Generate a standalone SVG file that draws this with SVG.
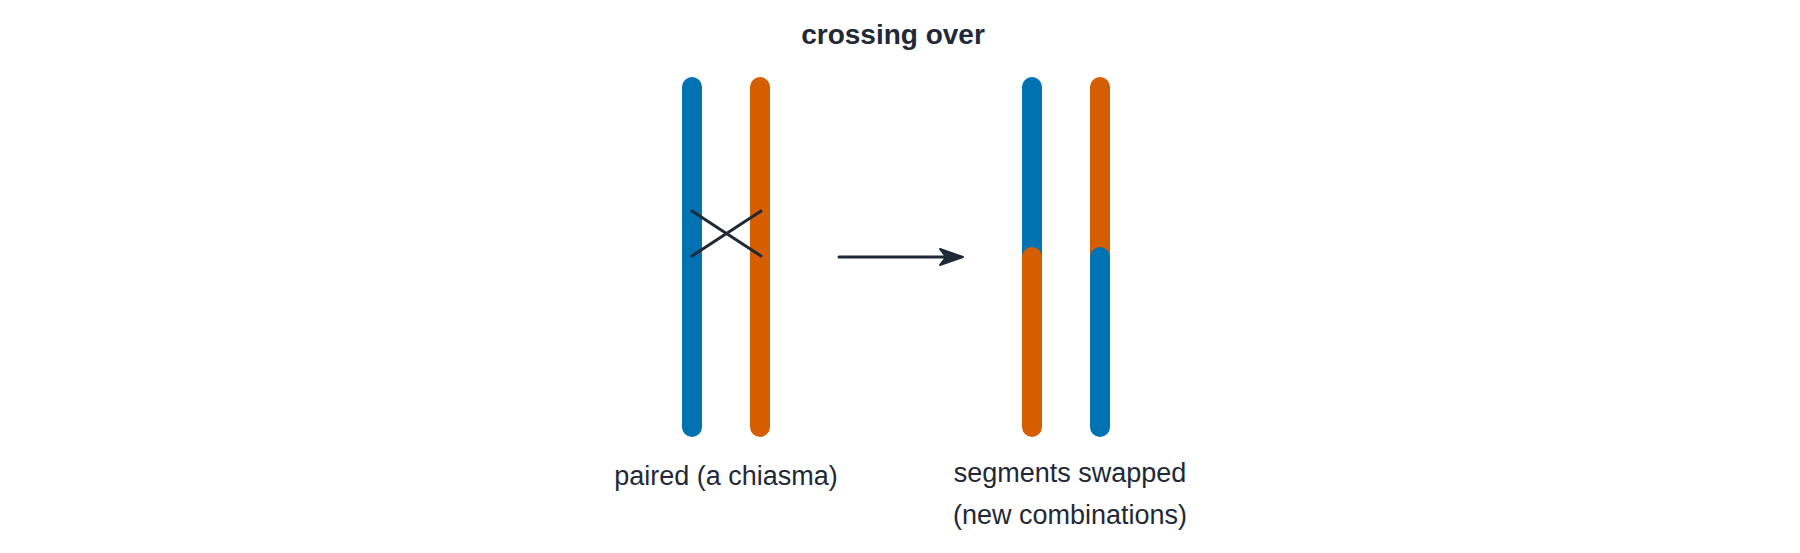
<svg xmlns="http://www.w3.org/2000/svg" width="1800" height="553" viewBox="0 0 1800 553">
<style>
.b{stroke:#0072b2;stroke-width:20;stroke-linecap:round;fill:none}
.o{stroke:#d55e00;stroke-width:20;stroke-linecap:round;fill:none}
.k{stroke:#1f2937;stroke-width:3;stroke-linecap:round;fill:none}
text{font-family:"Liberation Sans",Arial,sans-serif;fill:#1f2937;text-anchor:middle}
.t{font-size:28px;font-weight:bold}
.l{font-size:27px}
</style>
<defs><marker id="ah" markerWidth="10" markerHeight="10" refX="8" refY="5" orient="auto" markerUnits="userSpaceOnUse"><path d="M0,0 L10,5 L0,10 L3,5 Z" fill="#1f2937" transform="scale(2.2) translate(-4.5,-2.7)"/></marker></defs>
<rect width="1800" height="553" fill="#fff"/>
<text class="t" x="893" y="44">crossing over</text>
<g id="paired">
<line class="b" x1="692" y1="87" x2="692" y2="427"/>
<line class="o" x1="760" y1="87" x2="760" y2="427"/>
<line class="k" x1="692" y1="211" x2="761" y2="256"/>
<line class="k" x1="692" y1="256" x2="761" y2="211"/>
<text class="l" x="726" y="485">paired (a chiasma)</text>
</g>
<g id="swapped">
<line class="b" x1="1032" y1="87" x2="1032" y2="257"/>
<line class="o" x1="1032" y1="257" x2="1032" y2="427"/>
<line class="o" x1="1100" y1="87" x2="1100" y2="257"/>
<line class="b" x1="1100" y1="257" x2="1100" y2="427"/>
<text class="l" x="1070" y="482">segments swapped</text>
<text class="l" x="1070" y="524">(new combinations)</text>
</g>
<g id="connectors">
<line class="k" x1="839" y1="257" x2="952" y2="257"/>
<path d="M940,249 L963,257 L940,265 L946,257 Z" fill="#1f2937" stroke="#1f2937" stroke-width="2" stroke-linejoin="round"/>
</g>
</svg>
